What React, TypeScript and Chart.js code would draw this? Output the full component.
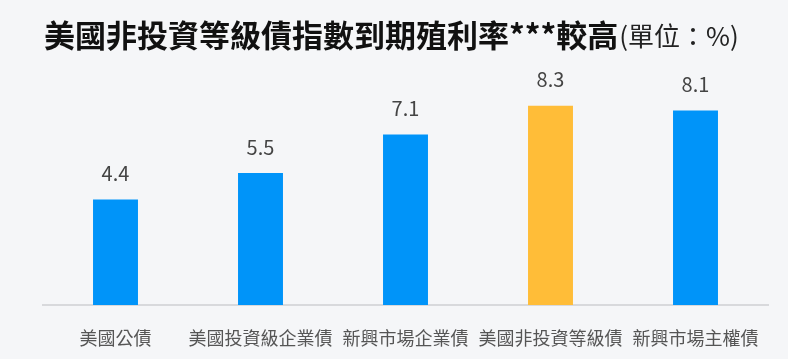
import React, { useEffect, useRef } from "react";
import { Chart, registerables } from "chart.js";

Chart.register(...registerables);

const categories = ["美國公債", "美國投資級企業債", "新興市場企業債", "美國非投資等級債", "新興市場主權債"];
const yields = [4.4, 5.5, 7.1, 8.3, 8.1];
const barColors = ["#0094f9", "#0094f9", "#0094f9", "#ffbd38", "#0094f9"];
const titleBold = "美國非投資等級債指數到期殖利率***較高";
const titleUnit = "(單位：%)";

const FONT = '"Noto Sans CJK TC", "Noto Sans", sans-serif';
const BG = "#f5f6f8";

export default function App() {
  const ref = useRef<HTMLCanvasElement>(null);
  useEffect(() => {
    const canvas = ref.current!;
    const bgPlugin = {
      id: "bg",
      beforeDraw(chart: any) {
        const { ctx, width, height } = chart;
        ctx.save();
        ctx.fillStyle = BG;
        ctx.fillRect(0, 0, width, height);
        ctx.restore();
      },
    };
    const titlePlugin = {
      id: "titleDraw",
      afterDraw(chart: any) {
        const ctx = chart.ctx;
        ctx.save();
        ctx.textBaseline = "middle";
        ctx.textAlign = "left";
        ctx.fillStyle = "#111111";
        ctx.font = `bold 31px ${FONT}`;
        const x0 = 44;
        const y0 = 35;
        ctx.fillText(titleBold, x0, y0);
        const w = ctx.measureText(titleBold).width;
        ctx.font = `400 26px ${FONT}`;
        ctx.fillStyle = "#222222";
        ctx.fillText(titleUnit, x0 + w + 1, y0 + 1);
        ctx.restore();
      },
    };
    const labelPlugin = {
      id: "valueLabels",
      afterDatasetsDraw(chart: any) {
        const ctx = chart.ctx;
        const meta = chart.getDatasetMeta(0);
        ctx.save();
        ctx.font = `400 20px ${FONT}`;
        ctx.fillStyle = "#444444";
        ctx.textAlign = "center";
        ctx.textBaseline = "bottom";
        meta.data.forEach((bar: any, i: number) => {
          ctx.fillText(yields[i].toFixed(1), bar.x, bar.y - 16);
        });
        ctx.restore();
      },
    };
    const chart = new Chart(canvas, {
      type: "bar",
      data: {
        labels: categories,
        datasets: [
          {
            data: yields,
            backgroundColor: barColors,
            borderWidth: 0,
            categoryPercentage: 1,
            barPercentage: 0.31,
          },
        ],
      },
      options: {
        responsive: false,
        animation: false,
        devicePixelRatio: 1,
        layout: { padding: { left: 43, right: 20, top: 65, bottom: 0 } },
        plugins: {
          legend: { display: false },
          tooltip: { enabled: false },
          title: { display: false },
        },
        scales: {
          x: {
            grid: { display: false, drawTicks: false },
            border: { display: true, color: "#d8d9dc", width: 2 },
            ticks: {
              color: "#555555",
              font: { family: FONT, size: 18 },
              padding: 22,
              maxRotation: 0,
              autoSkip: false,
            },
            afterFit(scale: any) {
              scale.height = 54;
            },
          },
          y: {
            display: false,
            min: 0,
            max: 10,
          },
        },
      },
      plugins: [bgPlugin, labelPlugin, titlePlugin],
    });
    return () => chart.destroy();
  }, []);
  return (
    <div style={{ position: "fixed", left: 0, top: 0, width: 788, height: 359, background: BG }}>
      <canvas ref={ref} width={788} height={359} style={{ display: "block", width: 788, height: 359 }} />
    </div>
  );
}
